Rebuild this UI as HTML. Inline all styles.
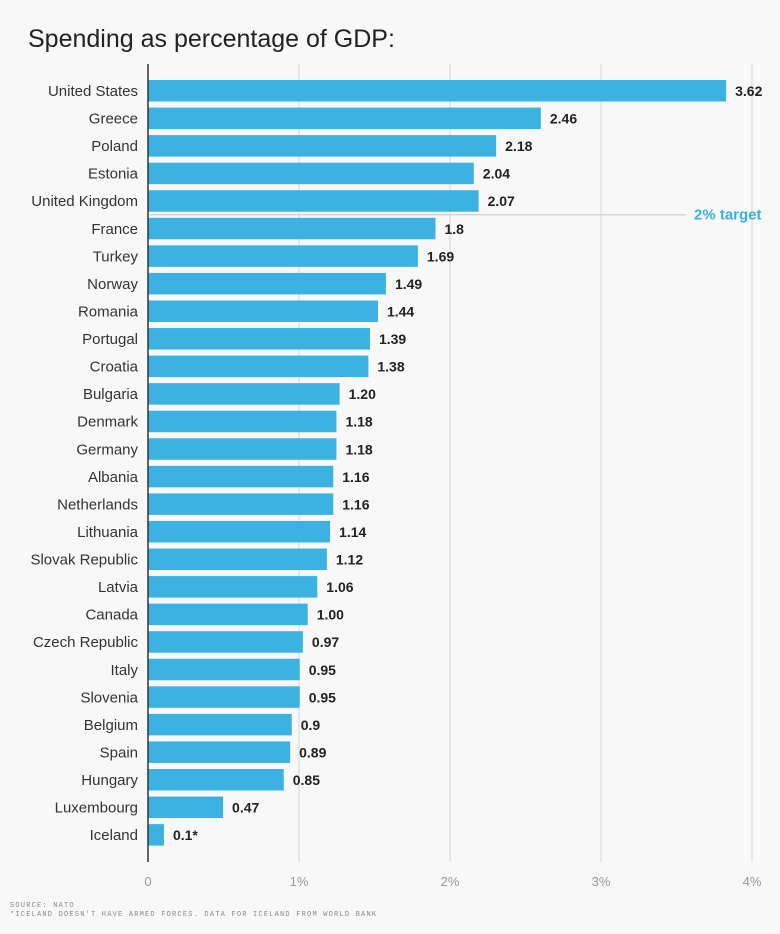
<!DOCTYPE html>
<html><head><meta charset="utf-8"><style>
body{margin:0;background:#f8f8f8;width:780px;height:929px;overflow:hidden;font-family:"Liberation Sans",sans-serif}
</style></head><body>
<svg width="780" height="929" xmlns="http://www.w3.org/2000/svg">
<text x="28" y="47" font-size="25" fill="#222">Spending as percentage of GDP:</text>
<g id="grid"></g><g id="bars"></g>
<text x="10" y="907" font-size="7" fill="#888" letter-spacing="1.2" font-family="Liberation Mono,monospace">SOURCE: NATO</text>
<text x="10" y="916" font-size="7" fill="#888" letter-spacing="1.2" font-family="Liberation Mono,monospace">*ICELAND DOESN'T HAVE ARMED FORCES. DATA FOR ICELAND FROM WORLD BANK</text>
</svg>
<script>
const countries=["United States","Greece","Poland","Estonia","United Kingdom","France","Turkey","Norway","Romania","Portugal","Croatia","Bulgaria","Denmark","Germany","Albania","Netherlands","Lithuania","Slovak Republic","Latvia","Canada","Czech Republic","Italy","Slovenia","Belgium","Spain","Hungary","Luxembourg","Iceland"];
const values=[3.62,2.46,2.18,2.04,2.07,1.8,1.69,1.49,1.44,1.39,1.38,1.20,1.18,1.18,1.16,1.16,1.14,1.12,1.06,1.00,0.97,0.95,0.95,0.9,0.89,0.85,0.47,0.1];
const valueLabels=["3.62","2.46","2.18","2.04","2.07","1.8","1.69","1.49","1.44","1.39","1.38","1.20","1.18","1.18","1.16","1.16","1.14","1.12","1.06","1.00","0.97","0.95","0.95","0.9","0.89","0.85","0.47","0.1*"];
const ticks=[0,1,2,3,4];
const tickLabels=["0","1%","2%","3%","4%"];
const target=2;
const NS="http://www.w3.org/2000/svg";
const x0=148, gridScale=151, barScale=159.7;
const gx=v=>x0+v*gridScale, bx=v=>x0+v*barScale;
const rowY=i=>91+i*27.56;
function mk(t,a,p){const e=document.createElementNS(NS,t);for(const k in a)e.setAttribute(k,a[k]);p.appendChild(e);return e;}
const G=document.getElementById('grid'),B=document.getElementById('bars');
ticks.forEach((t,i)=>{
 if(t>0){const l=mk('line',{x1:gx(t),x2:gx(t),y1:64,y2:862,stroke:'#dcdcdc','stroke-width':1.2},G);
 
 }
 const tx=mk('text',{x:gx(t),y:886,'font-size':13,fill:'#999','text-anchor':'middle'},G);tx.textContent=tickLabels[i];
 
 
});
const ty=rowY(4)+13.5;
const tl=mk('line',{x1:x0,x2:686,y1:ty,y2:ty,stroke:'#d0d0d0','stroke-width':1.2},G);


const tt=mk('text',{x:694,y:ty+5,'font-size':15,'font-weight':'bold',fill:'#3ab0e0'},G);tt.textContent=target+'% target';


countries.forEach((c,i)=>{
 const y=rowY(i);
 const r=mk('rect',{x:x0,y:y-11,width:bx(values[i])-x0,height:21.5,fill:'#3cb2e2'},B);
 
 
 const n=mk('text',{x:138,y:y+5,'font-size':15,fill:'#333','text-anchor':'end'},B);n.textContent=c;
 
 
 const v=mk('text',{x:bx(values[i])+9,y:y+5,'font-size':14,'font-weight':'bold',fill:'#222'},B);v.textContent=valueLabels[i];
 
 
});
const ax=mk('line',{x1:x0,x2:x0,y1:64,y2:862,stroke:'#333','stroke-width':1.5},B);


</script>
</body></html>
